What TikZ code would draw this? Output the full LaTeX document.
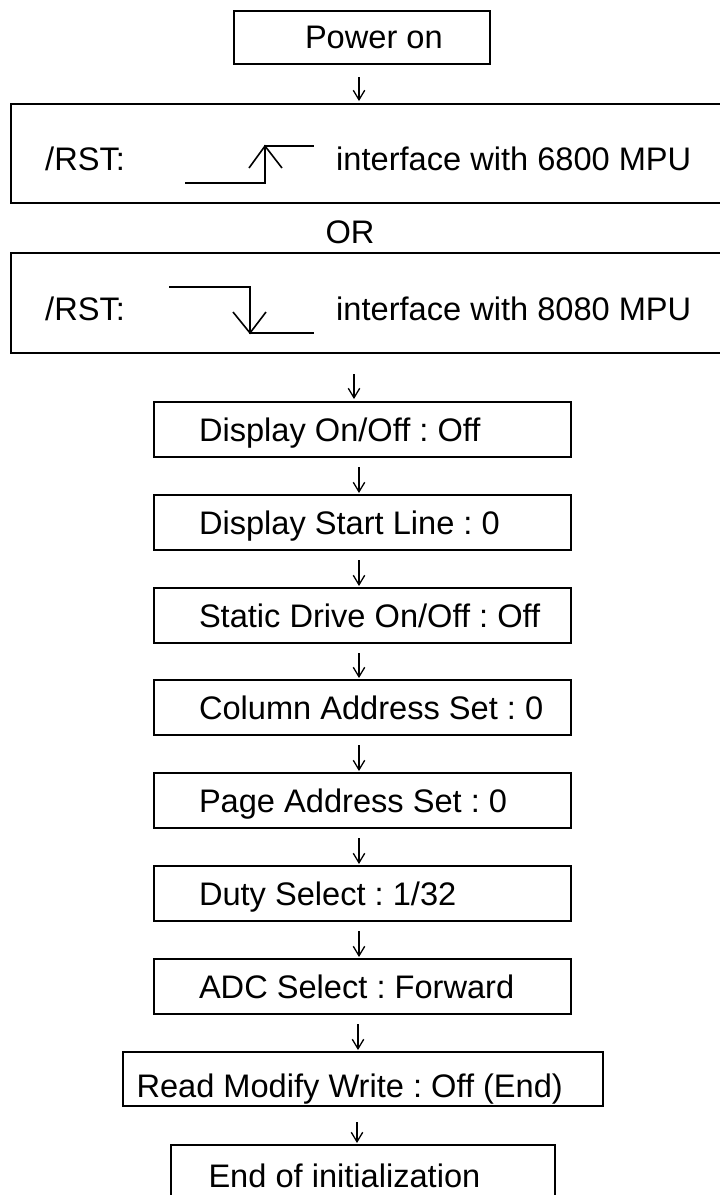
\documentclass[tikz,border=0pt]{standalone}
\usepackage{fontspec}
\setmainfont{Liberation Sans}
\usetikzlibrary{arrows.meta}
\frenchspacing
\newcommand\bxt[3]{\makebox[#1][l]{\hspace*{#2}#3}}
\tikzset{
  bx/.style={draw, line width=2pt, inner sep=0pt, anchor=north west, text depth=0pt,
             font=\fontsize{32.6}{38}\selectfont},
  midbox/.style={bx, minimum width=417pt, minimum height=55pt, text height=23pt},
  lbl/.style={inner sep=0pt, anchor=base west, font=\fontsize{32.6}{38}\selectfont},
  flow/.style={line width=1.3pt, -{Straight Barb[length=9.5pt,width=11.5pt]}},
  wave/.style={line width=1.6pt},
}
\begin{document}
\begin{tikzpicture}[x=1pt, y=-1pt]
\useasboundingbox (0,0) rectangle (720,1195);
\clip (0,0) rectangle (720,1195);
% top box
\node[bx, minimum width=256pt, minimum height=53pt, text height=21pt] (pw) at (233,10) {\bxt{256pt}{71pt}{Power on}};
% reset boxes
\node[bx, minimum width=715pt, minimum height=99pt] (b68) at (10,103) {};
\node[bx, minimum width=715pt, minimum height=100pt] (b80) at (10,252) {};
\node[lbl] (rst1) at (45,170) {/RST:};
\node[lbl] (if1) at (336,170) {interface with 6800 MPU};
\node[lbl, anchor=base] (or) at (350,243) {OR};
\node[lbl] (rst2) at (45,320) {/RST:};
\node[lbl] (if2) at (336,320) {interface with 8080 MPU};
% waveforms
\draw[wave] (185,183) -- (265,183) -- (265,146) -- (314,146);
\draw[wave] (249,168) -- (265,146) -- (282,168);
\draw[wave] (169,287) -- (250,287) -- (250,333) -- (314,333);
\draw[wave] (233,312) -- (250,333) -- (266,312);
% middle boxes
\node[midbox] (disp) at (153,401) {\bxt{417pt}{45pt}{Display On/Off : Off}};
\node[midbox] (dsl)  at (153,494) {\bxt{417pt}{45pt}{Display Start Line : 0}};
\node[midbox] (sdo)  at (153,587) {\bxt{417pt}{45pt}{Static Drive On/Off : Off}};
\node[midbox] (cas)  at (153,679) {\bxt{417pt}{45pt}{Column Address Set : 0}};
\node[midbox] (pas)  at (153,772) {\bxt{417pt}{45pt}{Page Address Set : 0}};
\node[midbox] (duty) at (153,865) {\bxt{417pt}{45pt}{Duty Select : 1/32}};
\node[midbox] (adc)  at (153,958) {\bxt{417pt}{45pt}{ADC Select : Forward}};
\node[bx, minimum width=480pt, minimum height=54pt, text height=36pt] (rmw) at (122,1051) {\bxt{480pt}{13.5pt}{Read Modify Write : Off (End)}};
\node[bx, minimum width=384pt, minimum height=55pt, text height=29pt] (eoi) at (170,1144) {\bxt{384pt}{37.5pt}{End of initialization}};
% connectors
\draw[flow, shorten <=12pt, shorten >=2pt] ([xshift=-3pt]pw.south) -- ([xshift=-3pt]pw.south |- b68.north);
\draw[flow, shorten <=20pt, shorten >=2pt] ([xshift=-8.5pt]disp.north |- b80.south) -- ([xshift=-8.5pt]disp.north);
\foreach \a/\b in {disp/dsl, dsl/sdo, sdo/cas, cas/pas, pas/duty, duty/adc}
  \draw[flow, shorten <=9pt, shorten >=1pt] ([xshift=-3.5pt]\a.south) -- ([xshift=-3.5pt]\b.north);
\draw[flow, shorten <=9pt, shorten >=1pt] ([xshift=-4.5pt]adc.south) -- ([xshift=-4.5pt]adc.south |- rmw.north);
\draw[flow, shorten <=15pt, shorten >=1pt] ([xshift=-6pt]rmw.south) -- ([xshift=-6pt]eoi.north);
\end{tikzpicture}
\end{document}
